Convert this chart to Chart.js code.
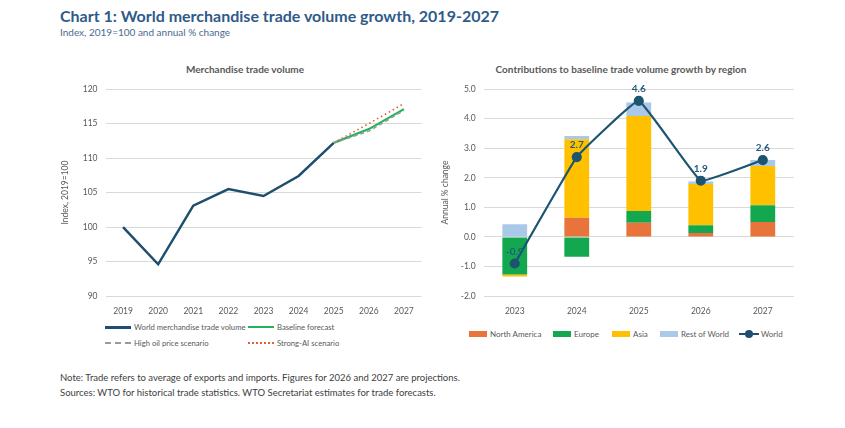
<!DOCTYPE html>
<html><head><meta charset="utf-8">
<script src="https://cdn.jsdelivr.net/npm/chart.js@4.4.1/dist/chart.umd.min.js"></script>
<style>
html,body{margin:0;padding:0;background:#fff;width:845px;height:428px;overflow:hidden;font-family:Lato,"Open Sans",sans-serif;}
.abs{position:absolute;white-space:nowrap;}
#title{left:60px;top:6px;font-size:16px;font-weight:bold;color:#2f5a8a;}
#sub{left:60px;top:26px;font-size:10px;color:#4a6b8c;}
.ct{font-size:10px;font-weight:bold;color:#595959;transform:translateX(-50%);}
.leg{font-size:8px;color:#595959;display:flex;align-items:center;}
.legl{font-size:7.7px;}
.sw{display:inline-block;width:26px;margin-right:3px;}
.box{display:inline-block;width:18px;height:6px;margin-right:3px;}
#note{left:60px;top:371px;font-size:9.5px;color:#404040;line-height:14.5px;}
</style></head><body>
<div class="abs" id="title">Chart 1: World merchandise trade volume growth, 2019-2027</div>
<div class="abs" id="sub">Index, 2019=100 and annual % change</div>
<div class="abs ct" style="left:245px;top:63px;">Merchandise trade volume</div>
<div class="abs ct" style="left:621px;top:63px;">Contributions to baseline trade volume growth by region</div>
<div class="abs" style="left:60px;top:76px;width:365px;height:240px;"><canvas id="c1"></canvas></div>
<div class="abs" style="left:440px;top:76px;width:360px;height:240px;"><canvas id="c2"></canvas></div>

<div class="abs leg legl" style="left:105px;top:322px;"><span class="sw" style="border-top:3px solid #1f4e6e;"></span>World merchandise trade volume</div>
<div class="abs leg legl" style="left:248px;top:322px;"><span class="sw" style="border-top:2.5px solid #22b35e;"></span>Baseline forecast</div>
<div class="abs leg legl" style="left:105px;top:338px;"><span class="sw" style="border-top:2px dashed #9a9a9a;"></span>High oil price scenario</div>
<div class="abs leg legl" style="left:248px;top:338px;"><span class="sw" style="border-top:2px dotted #e0603a;"></span>Strong-AI scenario</div>

<div class="abs leg" style="left:469px;top:329px;"><span class="box" style="background:#e8743b;"></span>North America</div>
<div class="abs leg" style="left:553px;top:329px;"><span class="box" style="background:#13a84f;"></span>Europe</div>
<div class="abs leg" style="left:612px;top:329px;"><span class="box" style="background:#ffc000;"></span>Asia</div>
<div class="abs leg" style="left:660px;top:329px;"><span class="box" style="background:#a9c8ea;"></span>Rest of World</div>
<div class="abs leg" style="left:739px;top:329px;"><span style="position:relative;display:inline-block;width:20px;height:8px;margin-right:2px;"><span style="position:absolute;left:0;top:3px;width:20px;border-top:2.5px solid #1f4e6e;"></span><span style="position:absolute;left:6px;top:0;width:8px;height:8px;border-radius:50%;background:#1f4e6e;"></span></span>World</div>

<div class="abs" id="note">Note: Trade refers to average of exports and imports. Figures for 2026 and 2027 are projections.<br>Sources: WTO for historical trade statistics. WTO Secretariat estimates for trade forecasts.</div>

<script>
// ---- Left chart data ----
const years = ["2019","2020","2021","2022","2023","2024","2025","2026","2027"];
const worldVolume = [100, 94.6, 103.1, 105.5, 104.5, 107.4, 112.2, null, null];
const baselineForecast = [null, null, null, null, null, null, 112.2, 114.2, 117.1];
const highOilScenario = [null, null, null, null, null, null, 112.2, 113.9, 116.9];
const strongAIScenario = [null, null, null, null, null, null, 112.2, 115.0, 117.9];
const leftTicks = [90, 95, 100, 105, 110, 115, 120];

// ---- Right chart data ----
const regionYears = ["2023","2024","2025","2026","2027"];
const northAmerica = [-0.02, 0.65, 0.48, 0.13, 0.50];
const europe = [-1.25, -0.67, 0.40, 0.26, 0.57];
const asia = [-0.07, 2.65, 3.21, 1.40, 1.33];
const restOfWorld = [0.43, 0.11, 0.46, 0.08, 0.20];
const worldGrowth = [-0.9, 2.7, 4.6, 1.9, 2.6];
const worldLabels = ["-0.9", "2.7", "4.6", "1.9", "2.6"];

const FONT = {family: "Lato, 'Open Sans', sans-serif", size: 8.5};
const TICKC = '#595959';
const GRID = '#d9d9d9';

new Chart(document.getElementById('c1'), {
  type: 'line',
  data: {
    labels: years,
    datasets: [
      {label:'High oil price scenario', data: highOilScenario, borderColor:'#9a9a9a', borderWidth:1.5, borderDash:[4,3], pointRadius:0, fill:false},
      {label:'Strong-AI scenario', data: strongAIScenario, borderColor:'#e0603a', borderWidth:1.6, borderDash:[1.5,3], pointRadius:0, fill:false},
      {label:'Baseline forecast', data: baselineForecast, borderColor:'#22b35e', borderWidth:2.2, pointRadius:0, fill:false},
      {label:'World merchandise trade volume', data: worldVolume, borderColor:'#1f4e6e', borderWidth:2.5, pointRadius:0, fill:false}
    ]
  },
  options: {
    responsive: true, maintainAspectRatio: false, animation: false,
    layout: {padding: {top: 5, right: 3.5, left: 0, bottom: 0}},
    plugins: {legend: {display: false}, tooltip: {enabled: false}},
    scales: {
      x: {offset: true, grid: {display: false}, border: {display: false},
          ticks: {color: TICKC, font: FONT, padding: 2, maxRotation: 0},
          afterFit: s => { s.height = 20; }},
      y: {min: 90, max: 120, afterBuildTicks: s => { s.ticks = leftTicks.map(v => ({value: v})); },
          grid: {color: GRID, drawTicks: false}, border: {display: false},
          ticks: {color: TICKC, font: FONT, padding: 8},
          title: {display: true, text: 'Index, 2019=100', color: TICKC, font: FONT, padding: 0},
          afterFit: s => { s.width = 45.5; }}
    }
  }
});

const labelPlugin = {
  id: 'worldLabels',
  afterDatasetsDraw(chart) {
    const ctx = chart.ctx;
    const idx = chart.data.datasets.findIndex(d => d.type === 'line');
    const meta = chart.getDatasetMeta(idx);
    ctx.save();
    ctx.font = "bold 10px Lato, 'Open Sans', sans-serif";
    ctx.fillStyle = '#1f5b7a';
    ctx.textAlign = 'center';
    ctx.textBaseline = 'bottom';
    meta.data.forEach((pt, i) => { ctx.fillText(worldLabels[i], pt.x, pt.y - 7); });
    ctx.restore();
  }
};

new Chart(document.getElementById('c2'), {
  type: 'bar',
  data: {
    labels: regionYears,
    datasets: [
      {type:'line', label:'World', data: worldGrowth, stack:'world', borderColor:'#1d5470', backgroundColor:'#1d5470', borderWidth:2.2, pointRadius:4, pointBackgroundColor:'#1d5470', tension:0.08, order:0},
      {label:'North America', data: northAmerica, backgroundColor:'#e8743b', stack:'r', order:1},
      {label:'Europe', data: europe, backgroundColor:'#13a84f', stack:'r', order:1},
      {label:'Asia', data: asia, backgroundColor:'#ffc000', stack:'r', order:1},
      {label:'Rest of World', data: restOfWorld, backgroundColor:'#a9c8ea', stack:'r', order:1}
    ]
  },
  options: {
    responsive: true, maintainAspectRatio: false, animation: false,
    layout: {padding: {top: 5, right: 4, left: 0, bottom: 0}},
    datasets: {bar: {categoryPercentage: 0.4, barPercentage: 1}},
    plugins: {legend: {display: false}, tooltip: {enabled: false}},
    scales: {
      x: {stacked: true, grid: {display: false}, border: {display: false},
          ticks: {color: TICKC, font: FONT, padding: 2, maxRotation: 0},
          afterFit: s => { s.height = 20; }},
      y: {stacked: true, min: -2, max: 5,
          grid: {color: GRID, drawTicks: false}, border: {display: false},
          ticks: {stepSize: 1, color: TICKC, font: FONT, padding: 8, callback: v => v.toFixed(1)},
          title: {display: true, text: 'Annual % change', color: TICKC, font: FONT, padding: 0},
          afterFit: s => { s.width = 43.75; }}
    }
  },
  plugins: [labelPlugin]
});
</script>
</body></html>
